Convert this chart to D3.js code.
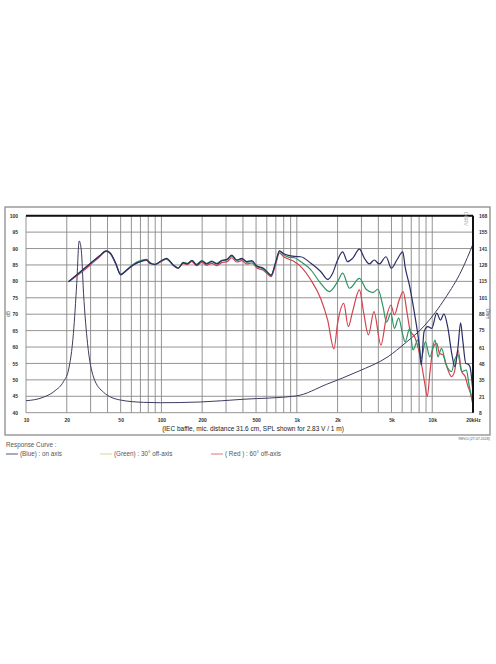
<!DOCTYPE html>
<html>
<head>
<meta charset="utf-8">
<script src="https://cdn.jsdelivr.net/npm/d3@7"></script>
<style>
  html, body { margin: 0; padding: 0; background: #fff; }
  svg { display: block; font-family: "Liberation Sans", Arial, sans-serif; }
</style>
</head>
<body>
<div class="chart"></div>
<script>
// Driver response curves: SPL on axis / 30 / 60 deg (left axis, dB) plus the
// impedance trace (right axis), log frequency 10 Hz - 20 kHz.
var freqGrid = [10, 20, 30, 40, 50, 60, 70, 80, 90, 100, 200, 300, 400, 500, 600, 700, 800, 900,
  1000, 2000, 3000, 4000, 5000, 6000, 7000, 8000, 9000, 10000, 20000]
var freqTicks = [10, 20, 50, 100, 200, 500, 1000, 2000, 5000, 10000, 20000]
var freqLabels = ['10', '20', '50', '100', '200', '500', '1k', '2k', '5k', '10k', '20kHz']
var dbTicks = [40, 45, 50, 55, 60, 65, 70, 75, 80, 85, 90, 95, 100]
var ohmTicks = [8, 21, 35, 48, 61, 75, 88, 101, 115, 128, 141, 155, 168]

// [Hz, dB]
var onAxis = [
  [20.6, 79.9], [25, 82.8], [30, 85.5], [35, 87.8], [39, 89.3], [42, 88.6], [46, 85.5], [50, 82],
  [55, 83.3], [62, 85], [70, 86], [78, 86.5], [82, 85.6], [89.6, 85.2], [100, 86.3], [109, 87],
  [122, 85], [133, 84], [145, 85.7], [155, 85.3], [168, 86.3], [182, 85], [199, 86.2], [216, 85.3],
  [235, 86], [257, 85.3], [279, 86.3], [305, 86.7], [331, 88], [360, 86.5], [392, 87], [427, 86],
  [465, 86.3], [507, 84.7], [566, 84], [617, 82.5], [645, 81.8], [700, 86], [745, 89.3],
  [795, 88.5], [866, 87.9], [960, 87.6], [1070, 87.5], [1270, 85.5], [1500, 83],
  [1690, 80.6], [1840, 82.5], [2000, 86.5], [2180, 89], [2370, 86], [2580, 87], [2900, 89.8],
  [3160, 87], [3430, 85.3], [3730, 86.5], [4060, 85.3], [4560, 87.5], [4990, 84], [5480, 86.5],
  [6060, 89], [6300, 84.5], [6820, 78.4], [7390, 70.3], [8040, 60.1], [8300, 54.5], [8700, 64.7],
  [9300, 66.2], [9900, 65.7], [10800, 70.3], [11500, 68.2], [12200, 70.1], [13000, 66.2],
  [14000, 57.5], [14700, 54], [15500, 60.1], [16200, 67.4], [16800, 62.1], [17700, 55],
  [18400, 54.8], [19000, 54], [20000, 46]
]
var offAxis30 = [
  [20.6, 79.9], [25, 82.8], [30, 85.5], [35, 87.8], [39, 89.2], [42, 88.5], [46, 85.4], [50, 82.2],
  [55, 83.4], [62, 85.2], [70, 86.3], [78, 86.7], [82, 85.8], [89.6, 85.1], [100, 86.2], [109, 86.8],
  [122, 85.1], [133, 84.1], [145, 85.8], [155, 85.5], [168, 86.4], [182, 85.2], [199, 86.3], [216, 85.5],
  [235, 86.2], [257, 85.5], [279, 86.4], [305, 86.6], [331, 87.7], [360, 86.4], [392, 86.8], [427, 85.8],
  [465, 86], [507, 84.5], [566, 83.8], [617, 82.4], [645, 81.9], [700, 86], [745, 89.2],
  [795, 88.2], [866, 87.4], [960, 87.2], [1070, 86], [1270, 83.5], [1500, 79.4],
  [1740, 76.9], [2000, 79.9], [2180, 82.5], [2450, 77.9], [2900, 80.9], [3250, 77.6], [3650, 76.6],
  [3970, 77.6], [4330, 72.3], [4600, 67.6], [4950, 70.3], [5250, 65.7], [5650, 68.8], [6060, 63.7],
  [6300, 61.6], [6820, 65.7], [7200, 59.1], [7830, 62.1], [8300, 56.6], [8900, 61.6], [9600, 57],
  [10500, 62.1], [11000, 57], [11700, 59.6], [12700, 54.5], [13900, 52.5], [14600, 56],
  [15500, 57.6], [16500, 52.5], [17900, 53], [18600, 49], [20000, 42.9]
]
var offAxis60 = [
  [20.6, 79.9], [25, 82.4], [30, 85.1], [35, 87.5], [39, 89.1], [42, 88.4], [46, 85.3], [50, 82.1],
  [55, 83.2], [62, 85], [70, 86.1], [78, 86.4], [82, 85.5], [89.6, 85.1], [100, 86.1], [109, 86.8],
  [122, 84.9], [133, 84], [145, 85.5], [155, 85.1], [168, 86], [182, 84.8], [199, 85.8], [216, 84.9],
  [235, 85.5], [257, 84.8], [279, 85.7], [305, 86], [331, 87.2], [360, 85.9], [392, 86.3], [427, 85.3],
  [465, 85.6], [507, 84.1], [566, 83.4], [617, 82], [645, 81.4], [700, 85.4], [745, 88.7],
  [795, 87.6], [866, 86.8], [960, 86], [1070, 84.5], [1270, 80.4], [1500, 74.8],
  [1690, 68.2], [1880, 59.4], [2000, 67.2], [2220, 73.3], [2400, 66.2], [2580, 70.8], [2900, 77.4],
  [3120, 70.3], [3380, 63.7], [3710, 70.8], [4180, 60.6], [4560, 68.6], [4950, 72.8], [5250, 69.8],
  [5700, 74.3], [6100, 76.9], [6500, 70.8], [6900, 64.7], [7390, 63.2], [7830, 60.1], [8400, 54],
  [8800, 49], [9200, 44.9], [9600, 52], [10200, 60.1], [10800, 61.1], [11300, 58.1], [12000, 57.6],
  [12700, 54.5], [13900, 51], [14600, 52.5], [15500, 59.1], [16500, 52.5], [17500, 51],
  [18400, 47.9], [19000, 46.4], [20000, 42.3]
]
// [Hz, right-axis units]
var impedance = [
  [10, 17.7], [13.4, 20.5], [16.4, 25.9], [18.9, 33.2], [20.6, 42.7], [22.4, 72.5], [23.7, 113],
  [24.7, 147.5], [25.6, 140], [26.6, 105], [28.5, 64], [31.5, 37], [37.4, 24.6], [49.7, 18.3],
  [74, 16.4], [98, 16.1], [193, 16.7], [401, 18.9], [986, 21.6], [1663, 31.1], [2832, 41.5],
  [4717, 53.5], [6300, 64.4], [8850, 79.2], [12450, 100.9], [16530, 123.9], [20000, 145]
]

var W = 496, H = 664
var plot = {x: 26, y: 215.7, w: 447, h: 197}

var svg = d3.select('.chart').append('svg').attr('width', W).attr('height', H)
svg.append('rect').attr('width', W).attr('height', H).attr('fill', '#fff')

// ---- outer frame ----
svg.append('rect')
  .attr('x', 5).attr('y', 207).attr('width', 485).attr('height', 228)
  .attr('fill', 'none').attr('stroke', '#8c8c8c').attr('stroke-width', 1.3)

var g = svg.append('g').attr('transform', 'translate(' + plot.x + ',' + plot.y + ')')

// ---- scales ----
var x = d3.scaleLog().domain([10, 20000]).range([0, plot.w])
var y = d3.scaleLinear().domain([40, 100]).range([plot.h, 0])
var yOhm = d3.scaleLinear().domain([8, 168]).range([plot.h, 0])

// ---- grid ----
var gridColor = '#888'
g.append('g').selectAll('line').data(freqGrid).join('line')
  .attr('x1', function(d){ return x(d) }).attr('x2', function(d){ return x(d) })
  .attr('y1', 0).attr('y2', plot.h)
  .attr('stroke', gridColor).attr('stroke-width', 0.9)
g.append('g').selectAll('line').data(dbTicks).join('line')
  .attr('x1', 0).attr('x2', plot.w)
  .attr('y1', function(d){ return y(d) }).attr('y2', function(d){ return y(d) })
  .attr('stroke', gridColor).attr('stroke-width', 0.9)

// ---- curves ----
function lineGen(scaleY){
  return d3.line()
    .x(function(d){ return x(d[0]) })
    .y(function(d){ return scaleY(d[1]) })
    .curve(d3.curveMonotoneX)
}
var series = [
  {data: impedance, scale: yOhm, color: '#3d3d60', width: 1},
  {data: offAxis60, scale: y, color: '#d2424f', width: 1.2},
  {data: offAxis30, scale: y, color: '#2f9463', width: 1.2},
  {data: onAxis, scale: y, color: '#2c2c6a', width: 1.2}
]
series.forEach(function(s){
  g.append('path')
    .attr('d', lineGen(s.scale)(s.data))
    .attr('fill', 'none').attr('stroke', s.color).attr('stroke-width', s.width)
    .attr('stroke-linejoin', 'round')
})

// ---- heavy top and right borders ----
g.append('line').attr('x1', 0).attr('x2', plot.w).attr('y1', y(100)).attr('y2', y(100))
  .attr('stroke', '#111').attr('stroke-width', 2)
g.append('line').attr('x1', plot.w).attr('x2', plot.w).attr('y1', 0).attr('y2', plot.h)
  .attr('stroke', '#111').attr('stroke-width', 2)

// ---- axes (labels only, grid drawn above) ----
var xAxis = g.append('g').attr('transform', 'translate(0,' + (plot.h + 3) + ')')
  .call(d3.axisBottom(x).tickValues(freqTicks).tickSize(0)
    .tickFormat(function(d, i){ return freqLabels[i] }))
var yAxis = g.append('g').attr('transform', 'translate(-5,0)')
  .call(d3.axisLeft(y).tickValues(dbTicks).tickSize(0).tickFormat(d3.format('d')))
var yAxisR = g.append('g').attr('transform', 'translate(' + (plot.w + 3) + ',0)')
  .call(d3.axisRight(yOhm).tickValues(ohmTicks).tickSize(0).tickFormat(d3.format('d')))
;[xAxis, yAxis, yAxisR].forEach(function(a){
  a.select('.domain').remove()
  a.selectAll('text').attr('font-size', 5).attr('font-weight', 700).attr('fill', '#333')
    .attr('font-family', '"Liberation Sans", Arial, sans-serif')
})

svg.append('text').text('dB')
  .attr('transform', 'translate(10,314) rotate(-90)')
  .attr('text-anchor', 'middle').attr('font-size', 5).attr('fill', '#555')
svg.append('text').text('Ohm')
  .attr('transform', 'translate(486,314) rotate(90)')
  .attr('text-anchor', 'middle').attr('font-size', 5).attr('fill', '#555')
svg.append('text').text('DBRV')
  .attr('transform', 'translate(464,212) rotate(90)')
  .attr('text-anchor', 'start').attr('font-size', 5).attr('fill', '#aaa')

// ---- caption and revision ----
svg.append('text').text('(IEC baffle, mic. distance 31.6 cm, SPL shown for 2.83 V / 1 m)')
  .attr('x', 253).attr('y', 430.5).attr('text-anchor', 'middle')
  .attr('font-size', 6.5).attr('fill', '#222')
svg.append('text').text('REV.0 (27.07.2018)')
  .attr('x', 490).attr('y', 439.5).attr('text-anchor', 'end')
  .attr('font-size', 3.6).attr('fill', '#555')

// ---- legend ----
svg.append('text').text('Response Curve :')
  .attr('x', 6).attr('y', 446.5).attr('font-size', 6.3).attr('fill', '#555')
var legendItems = [
  {x: 6, color: '#4a568f', label: '(Blue) : on axis'},
  {x: 100, color: '#c6dd9c', label: '(Green) : 30° off-axis'},
  {x: 211, color: '#d67a6c', label: '( Red ) : 60° off-axis'}
]
legendItems.forEach(function(l){
  svg.append('line').attr('x1', l.x).attr('x2', l.x + 12).attr('y1', 454).attr('y2', 454)
    .attr('stroke', l.color).attr('stroke-width', 1)
  svg.append('text').text(l.label)
    .attr('x', l.x + 14).attr('y', 456).attr('font-size', 6.3).attr('fill', '#555')
})
</script>
</body>
</html>
